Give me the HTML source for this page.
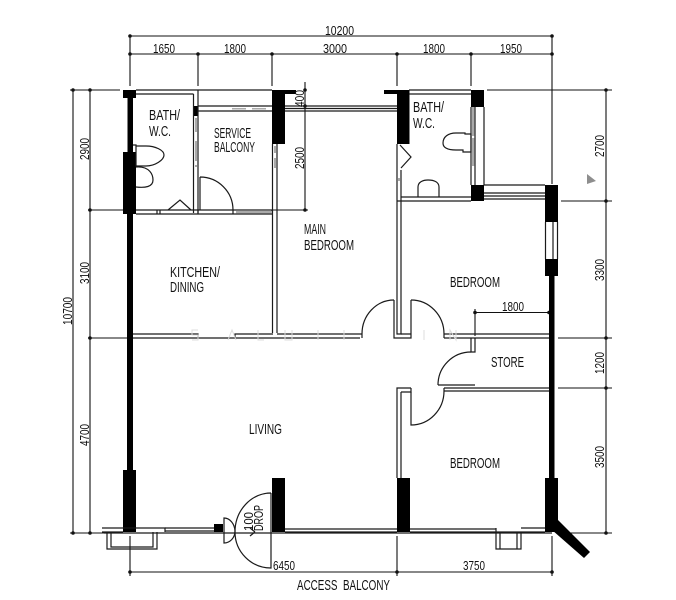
<!DOCTYPE html>
<html><head><meta charset="utf-8">
<style>
html,body{margin:0;padding:0;background:#fff}
svg{display:block}
text{font-family:"Liberation Sans",sans-serif;fill:#111}
.r{font-size:14.500px}
.d{font-size:12.500px}
</style></head>
<body>
<svg width="676" height="600" viewBox="0 0 676 600" xmlns="http://www.w3.org/2000/svg">
<rect width="676" height="600" fill="#fff"/>

<!-- dimension lines -->
<g stroke="#111" stroke-width="1.100" fill="none">
<path d="M130 36H552M130 54H552M130 36V86M198 54V86M272 54V86M397 54V86M471 54V86M552 36V184"/>
<path d="M73 90V533M90 90V533M70 90H120M88 210H123M88 338H130M70 533H104"/>
<path d="M606 90V533M487 90H612M561 201H612M558 338H612M558 388H612M558 533H612"/>
<path d="M130 572H552M130 536V576M397 536V576M552 536V576"/>
<path d="M305 82V210M136 210H308"/>
<path d="M475 312.500H549M475 309V336"/>
</g>
<g fill="#111">
<circle cx="130" cy="36" r="1.800"/><circle cx="552" cy="36" r="1.800"/>
<circle cx="130" cy="54" r="1.800"/><circle cx="198" cy="54" r="1.800"/><circle cx="272" cy="54" r="1.800"/><circle cx="397" cy="54" r="1.800"/><circle cx="471" cy="54" r="1.800"/><circle cx="552" cy="54" r="1.800"/>
<circle cx="73" cy="90" r="1.800"/><circle cx="90" cy="90" r="1.800"/><circle cx="90" cy="210" r="1.800"/><circle cx="90" cy="338" r="1.800"/><circle cx="73" cy="533" r="1.800"/><circle cx="90" cy="533" r="1.800"/>
<circle cx="606" cy="90" r="1.800"/><circle cx="606" cy="201" r="1.800"/><circle cx="606" cy="338" r="1.800"/><circle cx="606" cy="388" r="1.800"/><circle cx="606" cy="533" r="1.800"/>
<circle cx="130" cy="572" r="1.800"/><circle cx="397" cy="572" r="1.800"/><circle cx="552" cy="572" r="1.800"/>
<circle cx="305" cy="90" r="1.800"/><circle cx="305" cy="106" r="1.800"/><circle cx="305" cy="210" r="1.800"/>
<circle cx="475" cy="312.500" r="1.800"/><circle cx="549" cy="312.500" r="1.800"/>
</g>

<!-- black structure -->
<g fill="#000">
<rect x="123" y="90" width="13" height="8"/>
<rect x="127.500" y="97" width="5.500" height="56"/>
<rect x="123" y="152" width="13" height="62"/>
<rect x="127" y="213" width="6" height="258"/>
<rect x="123" y="470" width="13" height="62"/>
<rect x="194" y="106" width="4" height="10"/>
<rect x="272" y="90" width="13" height="54"/>
<rect x="285" y="90" width="11" height="4"/>
<rect x="397" y="90" width="12.500" height="54"/>
<rect x="384" y="90" width="13" height="4"/>
<rect x="471" y="90" width="13" height="17"/>
<rect x="471" y="185" width="13" height="16"/>
<rect x="545" y="185" width="13" height="37"/>
<rect x="545" y="259" width="13" height="17"/>
<rect x="549" y="276" width="5.500" height="203"/>
<rect x="545" y="478" width="13" height="54"/>
<rect x="397" y="478" width="13" height="54"/>
<rect x="272" y="478" width="13" height="54"/>
<rect x="214" y="524" width="9" height="8"/>
<path d="M552 520L558 520L590 552L584 558L552 530Z"/>
</g>

<!-- thin walls -->
<g stroke="#1a1a1a" stroke-width="1.200" fill="none">
<path d="M136 90H272M136 94H193.500"/>
<path d="M193.500 94V213M198 90V213"/>
<path d="M136 210H272M136 214H272M157 210V214M160 210V214M198 210V214M233 210V214M272 210V214"/>
<path d="M198 106H272M198 111H272"/>
<path d="M272.500 144V333M277 144V333"/>
<path d="M285 106H397M285 108.500H397M285 111H397"/>
<path d="M409 90H471M409 94H471"/>
<path d="M471 107V185M475 107V185M484 107V185"/>
<path d="M397 144V334H401V170M397 201H471M401 197H471"/>
<path d="M484 185H545M484 193H545M484 196H545M484 199H545"/>
<path d="M545.500 222V259M553 222V259M557.500 222V259"/>
<path d="M133 334H198V338M235 338V334H273M133 338H360"/>
<path d="M277 334H362M362 334V338"/>
<path d="M394 300V338H411V300M401 334H411"/>
<path d="M444 334H549M444 338H549M444 334V338"/>
<path d="M471 338V352H475V338"/>
<path d="M438 385H475M444 388H549M444 391H549M444 388V391"/>
<path d="M411 388H397V478M401 392H411V388M401 392V478"/>
<path d="M165 528H214M165 531H214M285 529H397M285 532H397M410 529H496M410 532H545M104 533H552"/>
<path d="M102 528H165V532M102 532H123"/>
<path d="M107 532V549H157V532M111 532V547H153V532"/>
<path d="M496 532V549H521V532M500 532V549M517 532V549M521 528H545M496 528V532"/>
<!-- doors -->
<path d="M200 177A33 33 0 0 1 233 210M200 177V210"/>
<path d="M362 334A32 34 0 0 1 394 300"/>
<path d="M411 300A33 34 0 0 1 444 334"/>
<path d="M471 352A33 33 0 0 0 438 385"/>
<path d="M444 391A33 34 0 0 1 411 425V392"/>
<path d="M271 493A36 39 0 0 0 235 532A36 36 0 0 0 271 568V493"/>
<path d="M224 518A11 14 0 0 1 235 531A11 12 0 0 1 224 543Z"/>
<path d="M255 532L250 528M255 532L250 536" transform="translate(0,0)"/>
<path d="M401 168L411 157L400 145"/>
<!-- fixtures -->
<path d="M133 145H136V152M136 146H146C155 146 164 150 164 155C164 160 155 166 146 166H136V152"/>
<path d="M136 167C150 166 153 175 153 180C153 187 145 188 136 187"/>
<path d="M168 210L180 200L191 210"/>
<path d="M471 134H465V133H456C448 133 443 137 443 143C443 148 448 150 456 150H463V152H471Z"/>
<path d="M418 197V187C418 182 423 180 428 180C434 180 439 182 439 187V197"/>
</g>

<!-- window patterns -->
<g fill="#aaa">
<rect x="195" y="118" width="2" height="14"/><rect x="195" y="141" width="2" height="20"/><rect x="195" y="165" width="2" height="2"/>
<rect x="232" y="108" width="14" height="1.500"/><rect x="252" y="108" width="14" height="1.500"/>
<rect x="274" y="146" width="2" height="7"/><rect x="274" y="158" width="2" height="10"/>
<rect x="472" y="107" width="2.500" height="29"/><rect x="472" y="138" width="2.500" height="28"/>
<rect x="236" y="211" width="36" height="2.500"/>
<rect x="398" y="178" width="2" height="3"/>
</g>

<!-- north mark -->
<path d="M587 174L596 181L587 184Z" fill="#8e8e8e"/>

<!-- faint watermark -->
<g fill="none" stroke="#dcdcdc" stroke-width="1">
<path d="M198 330H192V335H198V340H192M228 340L232 330L236 340M258 330V340H264M285 330V340H292V330M318 330V340M344 330V340M424 330V340M450 340V330L456 340V330"/>
</g>

<!-- room labels -->
<text class="r" x="149" y="120" textLength="31" lengthAdjust="spacingAndGlyphs">BATH/</text>
<text class="r" x="149" y="136" textLength="22" lengthAdjust="spacingAndGlyphs">W.C.</text>
<text class="r" x="214" y="138" textLength="37" lengthAdjust="spacingAndGlyphs">SERVICE</text>
<text class="r" x="214" y="152" textLength="41" lengthAdjust="spacingAndGlyphs">BALCONY</text>
<text class="r" x="413" y="112" textLength="31" lengthAdjust="spacingAndGlyphs">BATH/</text>
<text class="r" x="413" y="128" textLength="22" lengthAdjust="spacingAndGlyphs">W.C.</text>
<text class="r" x="304" y="234" textLength="22" lengthAdjust="spacingAndGlyphs">MAIN</text>
<text class="r" x="304" y="250" textLength="50" lengthAdjust="spacingAndGlyphs">BEDROOM</text>
<text class="r" x="170" y="277" textLength="50" lengthAdjust="spacingAndGlyphs">KITCHEN/</text>
<text class="r" x="170" y="292" textLength="34" lengthAdjust="spacingAndGlyphs">DINING</text>
<text class="r" x="450" y="287" textLength="50" lengthAdjust="spacingAndGlyphs">BEDROOM</text>
<text class="r" x="491" y="367" textLength="33" lengthAdjust="spacingAndGlyphs">STORE</text>
<text class="r" x="450" y="468" textLength="50" lengthAdjust="spacingAndGlyphs">BEDROOM</text>
<text class="r" x="249" y="434" textLength="33" lengthAdjust="spacingAndGlyphs">LIVING</text>
<text class="r" x="297" y="590" textLength="93" lengthAdjust="spacingAndGlyphs">ACCESS&#160;&#160;BALCONY</text>

<!-- dimension labels -->
<g>
<text class="d" x="325" y="35" textLength="29" lengthAdjust="spacingAndGlyphs">10200</text>
<text class="d" x="153" y="53" textLength="22" lengthAdjust="spacingAndGlyphs">1650</text>
<text class="d" x="224" y="53" textLength="22" lengthAdjust="spacingAndGlyphs">1800</text>
<text class="d" x="323" y="53" textLength="24" lengthAdjust="spacingAndGlyphs">3000</text>
<text class="d" x="423" y="53" textLength="22" lengthAdjust="spacingAndGlyphs">1800</text>
<text class="d" x="500" y="53" textLength="22" lengthAdjust="spacingAndGlyphs">1950</text>
<text class="d" x="502" y="311" textLength="22" lengthAdjust="spacingAndGlyphs">1800</text>
<text class="d" x="273" y="570" textLength="22" lengthAdjust="spacingAndGlyphs">6450</text>
<text class="d" x="463" y="570" textLength="22" lengthAdjust="spacingAndGlyphs">3750</text>
<text class="d" transform="translate(89,160) rotate(-90)" textLength="22" lengthAdjust="spacingAndGlyphs">2900</text>
<text class="d" transform="translate(89,284) rotate(-90)" textLength="22" lengthAdjust="spacingAndGlyphs">3100</text>
<text class="d" transform="translate(89,446) rotate(-90)" textLength="22" lengthAdjust="spacingAndGlyphs">4700</text>
<text class="d" transform="translate(72,325) rotate(-90)" textLength="28" lengthAdjust="spacingAndGlyphs">10700</text>
<text class="d" transform="translate(604,157) rotate(-90)" textLength="22" lengthAdjust="spacingAndGlyphs">2700</text>
<text class="d" transform="translate(604,281) rotate(-90)" textLength="22" lengthAdjust="spacingAndGlyphs">3300</text>
<text class="d" transform="translate(604,374) rotate(-90)" textLength="22" lengthAdjust="spacingAndGlyphs">1200</text>
<text class="d" transform="translate(604,468) rotate(-90)" textLength="22" lengthAdjust="spacingAndGlyphs">3500</text>
<text class="d" transform="translate(304,169) rotate(-90)" textLength="22" lengthAdjust="spacingAndGlyphs">2500</text>
<text class="d" transform="translate(304,107) rotate(-90)" textLength="17" lengthAdjust="spacingAndGlyphs">400</text>
<text class="d" transform="translate(253,531) rotate(-90)" textLength="19" lengthAdjust="spacingAndGlyphs">100</text>
<text class="d" transform="translate(263,531) rotate(-90)" textLength="26" lengthAdjust="spacingAndGlyphs">DROP</text>
</g>
</svg>
</body></html>
